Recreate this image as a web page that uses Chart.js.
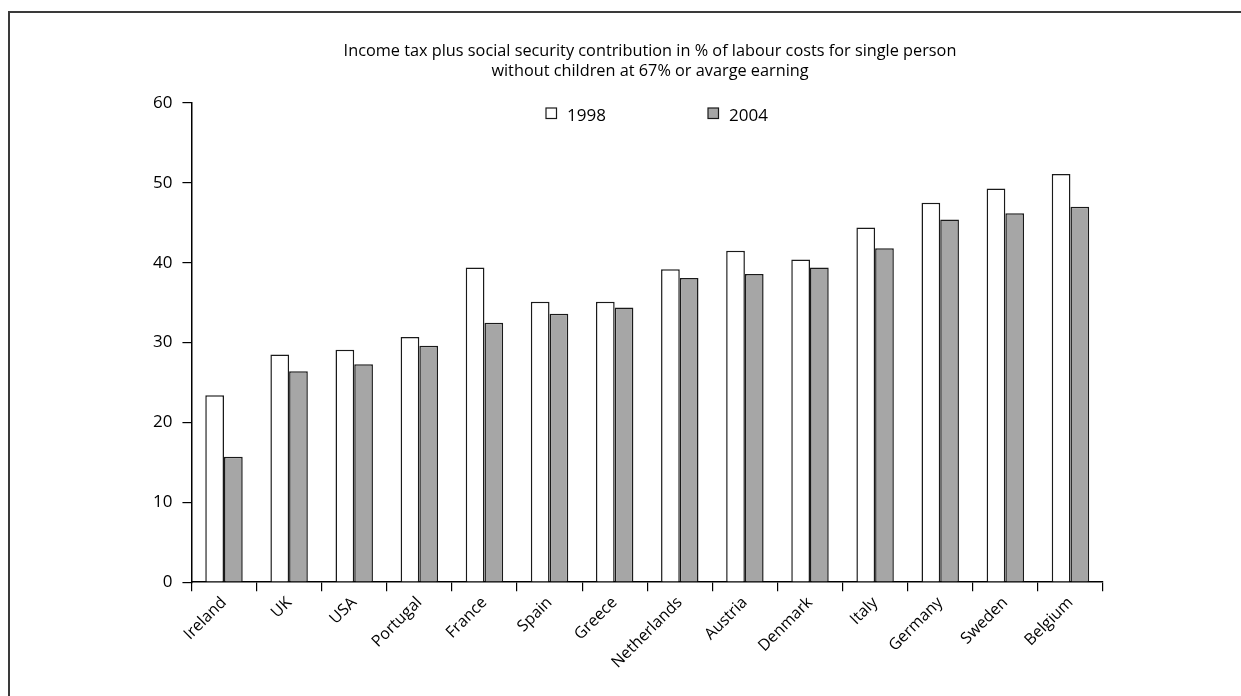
<!DOCTYPE html>
<html>
<head>
<meta charset="utf-8">
<title>Income tax plus social security contribution</title>
<script src="https://cdn.jsdelivr.net/npm/chart.js@4"></script>
<style>
    html, body {
        margin: 0;
        padding: 0;
        background: #ffffff;
        overflow: hidden;
    }
    .frame {
        position: absolute;
        left: 8px;
        top: 11px;
        width: 1300px;
        height: 800px;
        border-left: 2px solid #3a3a3a;
        border-top: 2px solid #3a3a3a;
    }
    .chart-box {
        position: absolute;
        left: 0;
        top: 0;
        width: 1160px;
        height: 696px;
    }
</style>
</head>
<body>
<div class="frame"></div>
<div class="chart-box">
    <canvas id="tax-wedge" width="1160" height="696"></canvas>
</div>
<script>
// Data per negara
const countries = ["Ireland", "UK", "USA", "Portugal", "France", "Spain", "Greece",
    "Netherlands", "Austria", "Denmark", "Italy", "Germany", "Sweden", "Belgium"];
const years = ["1998", "2004"];
const values1998 = [23.4, 28.5, 29.1, 30.7, 39.4, 35.1, 35.1, 39.2, 41.5, 40.4, 44.4, 47.5, 49.3, 51.1];
const values2004 = [15.7, 26.4, 27.3, 29.6, 32.5, 33.6, 34.4, 38.1, 38.6, 39.4, 41.8, 45.4, 46.2, 47.0];
const yTicks = [0, 10, 20, 30, 40, 50, 60];
const titleLines = [
    "Income tax plus social security contribution in % of labour costs for single person",
    "without children at 67% or avarge earning",
];

const FONT = "'Open Sans', Lato, sans-serif";

// Title and legend drawn at the top of the canvas
const headerPlugin = {
    id: "header",
    afterDraw(chart) {
        const ctx = chart.ctx;
        ctx.save();
        ctx.fillStyle = "#000";
        ctx.font = "16.3px " + FONT;
        ctx.textAlign = "center";
        ctx.textBaseline = "alphabetic";
        ctx.fillText(titleLines[0], 650, 56);
        ctx.fillText(titleLines[1], 650, 76);

        // legend entries
        const legendX = [546, 708];
        ctx.font = "17px " + FONT;
        ctx.textAlign = "left";
        chart.data.datasets.forEach((ds, i) => {
            const x = legendX[i];
            const y = 108;
            ctx.fillStyle = ds.backgroundColor;
            ctx.fillRect(x, y, 10.5, 10.5);
            ctx.strokeStyle = ds.borderColor;
            ctx.lineWidth = 1.2;
            ctx.strokeRect(x, y, 10.5, 10.5);
            ctx.fillStyle = "#000";
            ctx.fillText(ds.label, x + 21, 121);
        });
        ctx.restore();
    },
};

const data = {
    labels: countries,
    datasets: [
        {
            label: years[0],
            data: values1998,
            backgroundColor: "#ffffff",
            borderColor: "#1a1a1a",
            borderWidth: 1.5,
        },
        {
            label: years[1],
            data: values2004,
            backgroundColor: "#a6a6a6",
            borderColor: "#1a1a1a",
            borderWidth: 1.5,
        },
    ],
};

const config = {
    type: "bar",
    data: data,
    plugins: [headerPlugin],
    options: {
        responsive: false,
        animation: false,
        layout: {
            padding: { top: 103, right: 57, left: 143, bottom: 22 },
        },
        datasets: {
            bar: {
                barPercentage: 1,
                categoryPercentage: 0.575,
            },
        },
        scales: {
            x: {
                grid: {
                    display: true,
                    drawOnChartArea: false,
                    drawTicks: true,
                    tickLength: 9,
                    color: "#000",
                    lineWidth: 1.2,
                },
                border: { display: true, color: "#000", width: 1.5 },
                ticks: {
                    color: "#000",
                    font: { family: FONT, size: 16 },
                    maxRotation: 45,
                    minRotation: 45,
                    padding: 2,
                },
            },
            y: {
                min: 0,
                max: 60,
                afterBuildTicks(axis) {
                    axis.ticks = yTicks.map((v) => ({ value: v }));
                },
                grid: {
                    display: true,
                    drawOnChartArea: false,
                    drawTicks: true,
                    tickLength: 9,
                    color: "#000",
                    lineWidth: 1.2,
                },
                border: { display: true, color: "#000", width: 1.5 },
                ticks: {
                    color: "#000",
                    font: { family: FONT, size: 17 },
                    padding: 10,
                },
            },
        },
        plugins: {
            legend: { display: false },
            title: { display: false },
            tooltip: { enabled: false },
        },
    },
};

// Create the chart
new Chart(document.getElementById("tax-wedge"), config);
</script>
</body>
</html>
